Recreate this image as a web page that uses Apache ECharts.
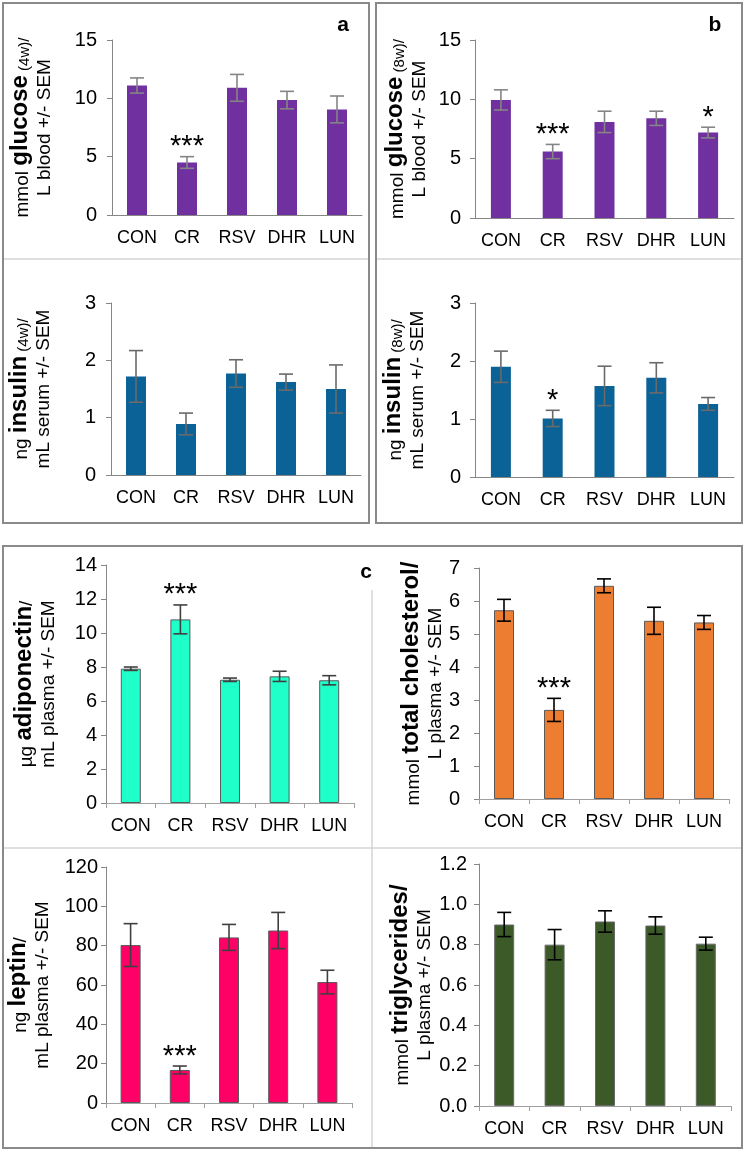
<!DOCTYPE html>
<html>
<head>
<meta charset="utf-8">
<script src="https://cdn.jsdelivr.net/npm/echarts@6/dist/echarts.min.js"></script>
<style>
html,body{margin:0;padding:0;background:#fff;}
#chart{width:745px;height:1151px;}
</style>
</head>
<body>
<div id="chart"></div>
<script>
// ---------------- data ----------------
const categories = ['CON', 'CR', 'RSV', 'DHR', 'LUN'];

const glucose4w      = [11.1, 4.5, 10.9, 9.85, 9.05];
const glucose4wSem   = [0.65, 0.5, 1.15, 0.75, 1.15];
const glucose4wStars = ['', '***', '', '', ''];

const insulin4w      = [1.72, 0.89, 1.77, 1.62, 1.50];
const insulin4wSem   = [0.45, 0.19, 0.24, 0.14, 0.42];
const insulin4wStars = ['', '', '', '', ''];

const glucose8w      = [9.95, 5.6, 8.1, 8.4, 7.2];
const glucose8wSem   = [0.85, 0.6, 0.9, 0.6, 0.45];
const glucose8wStars = ['', '***', '', '', '*'];

const insulin8w      = [1.90, 1.01, 1.57, 1.71, 1.26];
const insulin8wSem   = [0.27, 0.14, 0.34, 0.26, 0.11];
const insulin8wStars = ['', '*', '', '', ''];

const adiponectin      = [7.9, 10.8, 7.25, 7.45, 7.22];
const adiponectinSem   = [0.1, 0.85, 0.1, 0.3, 0.27];
const adiponectinStars = ['', '***', '', '', ''];

const cholesterol      = [5.72, 2.7, 6.46, 5.4, 5.35];
const cholesterolSem   = [0.33, 0.35, 0.21, 0.41, 0.21];
const cholesterolStars = ['', '***', '', '', ''];

const leptin      = [80.3, 16.8, 84.2, 87.7, 61.5];
const leptinSem   = [10.9, 2.0, 6.6, 9.2, 6.0];
const leptinStars = ['', '***', '', '', ''];

const triglycerides      = [0.90, 0.80, 0.915, 0.895, 0.805];
const triglyceridesSem   = [0.06, 0.075, 0.053, 0.043, 0.032];
const triglyceridesStars = ['', '', '', '', ''];

// y-axis scales [max, interval, decimals]
const glucose4wScale     = [15, 5, 0];
const insulin4wScale     = [3, 1, 0];
const glucose8wScale     = [15, 5, 0];
const insulin8wScale     = [3, 1, 0];
const adiponectinScale   = [14, 2, 0];
const cholesterolScale   = [7, 1, 0];
const leptinScale        = [120, 20, 0];
const triglyceridesScale = [1.2, 0.2, 1];

// axis titles (rich text)
const glucose4wTitle     = '{n|mmol }{b|glucose}{s| (4w)/}\n{n|L blood +/- SEM}';
const insulin4wTitle     = '{n|ng }{b|insulin}{s| (4w)/}\n{n|mL serum +/- SEM}';
const glucose8wTitle     = '{n|mmol }{b|glucose}{s| (8w)/}\n{n|L blood +/- SEM}';
const insulin8wTitle     = '{n|ng }{b|insulin}{s| (8w)/}\n{n|mL serum +/- SEM}';
const adiponectinTitle   = '{n|µg }{b|adiponectin}{n|/}\n{n|mL plasma +/- SEM}';
const cholesterolTitle   = '{n|mmol }{b|total cholesterol/}\n{n|L plasma +/- SEM}';
const leptinTitle        = '{n|ng }{b|leptin}{n|/}\n{n|mL plasma +/- SEM}';
const triglyceridesTitle = '{n|mmol }{b|triglycerides/}\n{n|L plasma +/- SEM}';

// ---------------- layout / style ----------------
const FONT = '"Liberation Sans", Arial, sans-serif';
const panels = [
  {vals: glucose4w, sem: glucose4wSem, stars: glucose4wStars, scale: glucose4wScale, title: glucose4wTitle,
   grid: {left: 112, top: 40, width: 250, height: 175}, color: '#7030A0', border: null, err: '#858585',
   xTick: false, labelMargin: 15, nameGap: 58},
  {vals: insulin4w, sem: insulin4wSem, stars: insulin4wStars, scale: insulin4wScale, title: insulin4wTitle,
   grid: {left: 111, top: 303, width: 250, height: 172}, color: '#0B6296', border: null, err: '#6a6a6a',
   xTick: false, labelMargin: 15, nameGap: 58},
  {vals: glucose8w, sem: glucose8wSem, stars: glucose8wStars, scale: glucose8wScale, title: glucose8wTitle,
   grid: {left: 475, top: 40, width: 259, height: 178}, color: '#7030A0', border: null, err: '#858585',
   xTick: false, labelMargin: 14, nameGap: 46},
  {vals: insulin8w, sem: insulin8wSem, stars: insulin8wStars, scale: insulin8wScale, title: insulin8wTitle,
   grid: {left: 475, top: 303, width: 259, height: 174}, color: '#0B6296', border: null, err: '#6a6a6a',
   xTick: false, labelMargin: 14, nameGap: 48},
  {vals: adiponectin, sem: adiponectinSem, stars: adiponectinStars, scale: adiponectinScale, title: adiponectinTitle,
   grid: {left: 106, top: 565, width: 248, height: 238}, color: '#1EFFC9', border: '#5a5a5a', err: '#404040',
   xTick: true, labelMargin: 9, nameGap: 48},
  {vals: cholesterol, sem: cholesterolSem, stars: cholesterolStars, scale: cholesterolScale, title: cholesterolTitle,
   grid: {left: 479, top: 568, width: 250, height: 231}, color: '#ED7D31', border: '#5a5a5a', err: '#000000',
   xTick: true, labelMargin: 19, nameGap: 34},
  {vals: leptin, sem: leptinSem, stars: leptinStars, scale: leptinScale, title: leptinTitle,
   grid: {left: 106, top: 867, width: 246, height: 236}, color: '#FF0066', border: '#5a5a5a', err: '#404040',
   xTick: true, labelMargin: 8, nameGap: 54},
  {vals: triglycerides, sem: triglyceridesSem, stars: triglyceridesStars, scale: triglyceridesScale, title: triglyceridesTitle,
   grid: {left: 479, top: 864, width: 252, height: 242}, color: '#3B5A27', border: '#6a6a6a', err: '#000000',
   xTick: true, labelMargin: 12, nameGap: 45}
];

const rich = {
  n: {fontSize: 19, fontFamily: FONT, color: '#000', lineHeight: 22, verticalAlign: 'bottom'},
  b: {fontSize: 24, fontFamily: FONT, fontWeight: 'bold', color: '#000', lineHeight: 22, verticalAlign: 'bottom'},
  s: {fontSize: 15, fontFamily: FONT, color: '#000', lineHeight: 22, verticalAlign: 'bottom'}
};

const grids = [], xAxes = [], yAxes = [], series = [];
panels.forEach((p, i) => {
  grids.push(Object.assign({containLabel: false, outerBoundsMode: 'none'}, p.grid));
  xAxes.push({
    type: 'category', gridIndex: i, data: categories,
    axisLine: {show: true, lineStyle: {color: p.xTick ? '#a0a0a0' : '#868686', width: 1}},
    axisTick: {show: p.xTick, length: 5, lineStyle: {color: '#a0a0a0'}},
    axisLabel: {fontSize: 18, fontFamily: FONT, color: '#000', margin: 14, interval: 0}
  });
  yAxes.push({
    type: 'value', gridIndex: i, min: 0, max: p.scale[0], interval: p.scale[1],
    splitLine: {show: false},
    axisLine: {show: true, lineStyle: {color: '#868686', width: 1}},
    axisTick: {show: true, length: 5, lineStyle: {color: '#868686'}},
    axisLabel: {fontSize: 20, fontFamily: FONT, color: '#000', margin: p.labelMargin,
      formatter: v => v.toFixed(p.scale[2])},
    name: p.title, nameLocation: 'middle', nameRotate: 90, nameGap: p.nameGap,
    nameMoveOverlap: false,
    nameTextStyle: {rich: rich, align: 'center'}
  });
  series.push({
    type: 'bar', xAxisIndex: i, yAxisIndex: i, data: p.vals, barWidth: 20, z: 2,
    itemStyle: {color: p.color, borderColor: p.border || p.color, borderWidth: p.border ? 1 : 0},
    silent: true, animation: false
  });
  const stars = p.stars;
  const errColor = p.err;
  series.push({
    type: 'custom', xAxisIndex: i, yAxisIndex: i, animation: false, silent: true, clip: false, z: 5,
    data: p.vals.map((v, k) => [k, v - p.sem[k], v + p.sem[k]]),
    renderItem: (params, api) => {
      const lo = api.coord([api.value(0), api.value(1)]);
      const hi = api.coord([api.value(0), api.value(2)]);
      const cap = 7;
      const st = {stroke: errColor, lineWidth: 1.6};
      const children = [
        {type: 'line', z2: 10, shape: {x1: lo[0], y1: lo[1], x2: hi[0], y2: hi[1]}, style: st},
        {type: 'line', z2: 10, shape: {x1: lo[0] - cap, y1: lo[1], x2: lo[0] + cap, y2: lo[1]}, style: st},
        {type: 'line', z2: 10, shape: {x1: hi[0] - cap, y1: hi[1], x2: hi[0] + cap, y2: hi[1]}, style: st}
      ];
      const s = stars[params.dataIndex];
      if (s) {
        children.push({type: 'text', style: {text: s, x: hi[0], y: hi[1] + 5, align: 'center',
          verticalAlign: 'bottom', fontSize: 29, fontFamily: FONT, fill: '#000'}});
      }
      return {type: 'group', children: children};
    }
  });
});

const BORDER = '#8a8a8a', DIV = '#d4d4d4';
const graphic = [
  {type: 'rect', shape: {x: 3, y: 3, width: 366, height: 520}, style: {fill: 'none', stroke: BORDER, lineWidth: 2}},
  {type: 'rect', shape: {x: 376, y: 3, width: 366, height: 520}, style: {fill: 'none', stroke: BORDER, lineWidth: 2}},
  {type: 'line', shape: {x1: 4, y1: 259, x2: 368, y2: 259}, style: {stroke: DIV, lineWidth: 1.5}},
  {type: 'line', shape: {x1: 377, y1: 259, x2: 741, y2: 259}, style: {stroke: DIV, lineWidth: 1.5}},
  {type: 'rect', shape: {x: 3, y: 546, width: 739, height: 602}, style: {fill: 'none', stroke: BORDER, lineWidth: 2}},
  {type: 'line', shape: {x1: 372, y1: 590, x2: 372, y2: 1147}, style: {stroke: DIV, lineWidth: 1.5}},
  {type: 'line', shape: {x1: 4, y1: 848, x2: 741, y2: 848}, style: {stroke: DIV, lineWidth: 1.5}},
  {type: 'text', style: {text: 'a', x: 343, y: 25, align: 'center', verticalAlign: 'middle', fontSize: 21, fontWeight: 'bold', fontFamily: FONT, fill: '#000'}},
  {type: 'text', style: {text: 'b', x: 715, y: 25, align: 'center', verticalAlign: 'middle', fontSize: 21, fontWeight: 'bold', fontFamily: FONT, fill: '#000'}},
  {type: 'text', style: {text: 'c', x: 366, y: 572, align: 'center', verticalAlign: 'middle', fontSize: 21, fontWeight: 'bold', fontFamily: FONT, fill: '#000'}}
];

const chart = echarts.init(document.getElementById('chart'), null, {renderer: 'canvas'});
chart.setOption({
  animation: false,
  backgroundColor: '#fff',
  grid: grids, xAxis: xAxes, yAxis: yAxes, series: series, graphic: graphic
});
</script>
</body>
</html>
